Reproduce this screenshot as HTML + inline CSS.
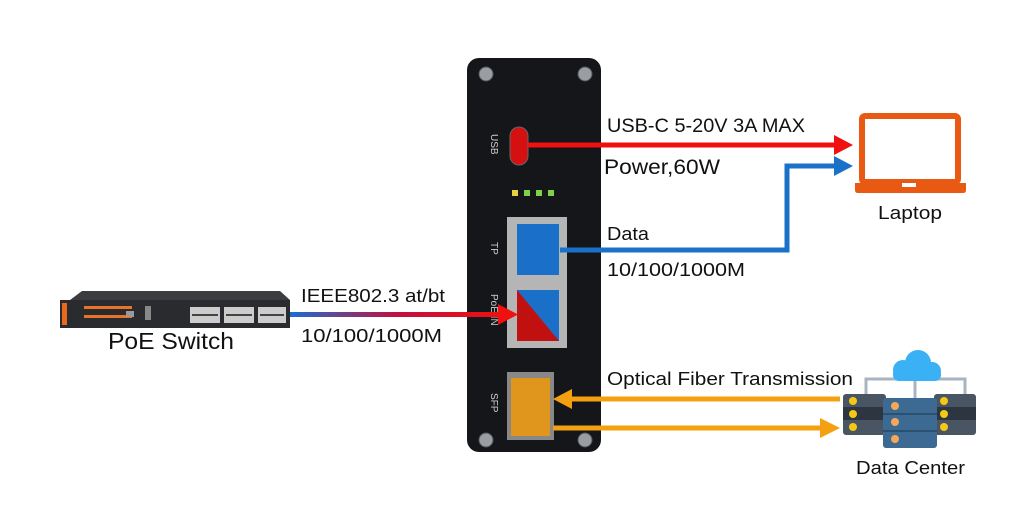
<!DOCTYPE html>
<html><head><meta charset="utf-8"><style>
html,body{margin:0;padding:0;background:#fff;width:1024px;height:529px;overflow:hidden}
svg{display:block}
text{font-family:"Liberation Sans",sans-serif;fill:#111}
</style></head><body>
<svg width="1024" height="529" viewBox="0 0 1024 529">
<defs>
<linearGradient id="g1" x1="0" x2="1"><stop offset="0" stop-color="#1a6fd0"/><stop offset="0.5" stop-color="#c01040"/><stop offset="1" stop-color="#f01010"/></linearGradient>
</defs>
<!-- PoE switch -->
<path d="M70 300 L82 291 L280 291 L290 300 Z" fill="#3a3c40"/>
<rect x="60" y="300" width="230" height="28" fill="#2a2b2e"/>
<rect x="62" y="303" width="5" height="22" fill="#e86a1a"/>
<rect x="84" y="306" width="48" height="3" fill="#e8742a"/>
<rect x="84" y="315" width="48" height="3" fill="#e8742a"/>
<rect x="126" y="311" width="8" height="6" fill="#999"/>
<rect x="145" y="306" width="6" height="14" fill="#888"/>
<g fill="#ccc">
<rect x="190" y="307" width="30" height="16"/><rect x="224" y="307" width="30" height="16"/><rect x="258" y="307" width="28" height="16"/>
</g>
<g fill="#444"><rect x="192" y="314" width="26" height="2"/><rect x="226" y="314" width="26" height="2"/><rect x="260" y="314" width="24" height="2"/></g>
<text x="108" y="349" font-size="23" textLength="126" lengthAdjust="spacingAndGlyphs">PoE Switch</text>
<text x="301" y="302" font-size="18" textLength="144" lengthAdjust="spacingAndGlyphs">IEEE802.3 at/bt</text>
<text x="301" y="342" font-size="18" textLength="141" lengthAdjust="spacingAndGlyphs">10/100/1000M</text>
<!-- device -->
<rect x="467" y="58" width="134" height="394" rx="12" fill="#14161a"/>
<g fill="#9a9ea3" stroke="#555" stroke-width="1">
<circle cx="486" cy="74" r="7"/><circle cx="585" cy="74" r="7"/><circle cx="486" cy="440" r="7"/><circle cx="585" cy="440" r="7"/>
</g>
<rect x="510" y="127" width="18" height="38" rx="9" fill="#d51010" stroke="#666"/>
<text font-size="10" style="fill:#ccc" transform="translate(491,134) rotate(90)">USB</text>
<g fill="#7fd04a"><rect x="512" y="190" width="6" height="6" fill="#e8d040"/><rect x="524" y="190" width="6" height="6"/><rect x="536" y="190" width="6" height="6"/><rect x="548" y="190" width="6" height="6"/></g>
<rect x="507" y="217" width="60" height="131" fill="#b5b5b5"/>
<rect x="517" y="224" width="42" height="51" fill="#1a6fc8"/>
<rect x="517" y="290" width="42" height="51" fill="#1a6fc8"/>
<polygon points="517,290 517,341 559,341" fill="#c01010"/>
<text font-size="10" style="fill:#ccc" transform="translate(491,242) rotate(90)">TP</text>
<text font-size="10" style="fill:#ccc" transform="translate(491,294) rotate(90)">PoE IN</text>
<text font-size="10" style="fill:#ccc" transform="translate(491,393) rotate(90)">SFP</text>
<rect x="507" y="372" width="47" height="68" fill="#888"/>
<rect x="511" y="378" width="39" height="58" fill="#e0961c"/>
<!-- switch line (over device) -->
<rect x="290" y="312" width="212" height="5" fill="url(#g1)"/>
<polygon points="498,304 518,314.5 498,325" fill="#f01010"/>
<!-- red USB line -->
<rect x="528" y="142.5" width="308" height="5" fill="#f01010"/>
<polygon points="834,135 853,145 834,155" fill="#f01010"/>
<text x="607" y="132" font-size="19" textLength="198" lengthAdjust="spacingAndGlyphs">USB-C 5-20V 3A MAX</text>
<text x="604" y="174" font-size="21" textLength="116" lengthAdjust="spacingAndGlyphs">Power,60W</text>
<!-- blue data line -->
<polyline points="560,250 787,250 787,166 836,166" fill="none" stroke="#1a72c8" stroke-width="5"/>
<polygon points="834,156 853,166 834,176" fill="#1a72c8"/>
<text x="607" y="240" font-size="18" textLength="42" lengthAdjust="spacingAndGlyphs">Data</text>
<text x="607" y="276" font-size="18" textLength="138" lengthAdjust="spacingAndGlyphs">10/100/1000M</text>
<!-- laptop -->
<rect x="862" y="116" width="96" height="66" rx="3" fill="none" stroke="#e85a14" stroke-width="6"/>
<path d="M855 183 H966 V190 Q966 193 963 193 H858 Q855 193 855 190 Z" fill="#e85a14"/>
<rect x="902" y="183" width="14" height="4" fill="#fff"/>
<text x="878" y="219" font-size="18" textLength="64" lengthAdjust="spacingAndGlyphs">Laptop</text>
<!-- orange fiber -->
<rect x="570" y="396.5" width="270" height="5" fill="#f5a010"/>
<polygon points="572,389 553,399 572,409" fill="#f5a010"/>
<rect x="553" y="425.5" width="268" height="5" fill="#f5a010"/>
<polygon points="820,418 840,428 820,438" fill="#f5a010"/>
<text x="607" y="385" font-size="18" textLength="246" lengthAdjust="spacingAndGlyphs">Optical Fiber Transmission</text>
<!-- data center -->
<path d="M866 395 V379 H965 V395" fill="none" stroke="#a9b4c2" stroke-width="3"/>
<line x1="915" y1="370" x2="915" y2="400" stroke="#a9b4c2" stroke-width="3"/>
<g fill="#3ab0f5"><circle cx="903" cy="370" r="10"/><circle cx="918" cy="363" r="13"/><circle cx="932" cy="371" r="9"/><rect x="893" y="368" width="48" height="13" rx="6"/></g>
<rect x="843" y="394" width="43" height="41" rx="3" fill="#4a5563"/>
<rect x="843" y="407" width="43" height="13" fill="#2c3540"/>
<rect x="934" y="394" width="42" height="41" rx="3" fill="#4a5563"/>
<rect x="934" y="407" width="42" height="13" fill="#2c3540"/>
<g fill="#f5c814"><circle cx="853" cy="401" r="4"/><circle cx="853" cy="414" r="4"/><circle cx="853" cy="427" r="4"/><circle cx="944" cy="401" r="4"/><circle cx="944" cy="414" r="4"/><circle cx="944" cy="427" r="4"/></g>
<rect x="883" y="398" width="54" height="50" rx="3" fill="#3d6a92"/>
<rect x="883" y="413" width="54" height="2" fill="#2c5070"/><rect x="883" y="430" width="54" height="2" fill="#2c5070"/>
<g fill="#f5a85a"><circle cx="895" cy="406" r="4"/><circle cx="895" cy="422" r="4"/><circle cx="895" cy="439" r="4"/></g>
<text x="856" y="474" font-size="18" textLength="109" lengthAdjust="spacingAndGlyphs">Data Center</text>
</svg>
</body></html>
